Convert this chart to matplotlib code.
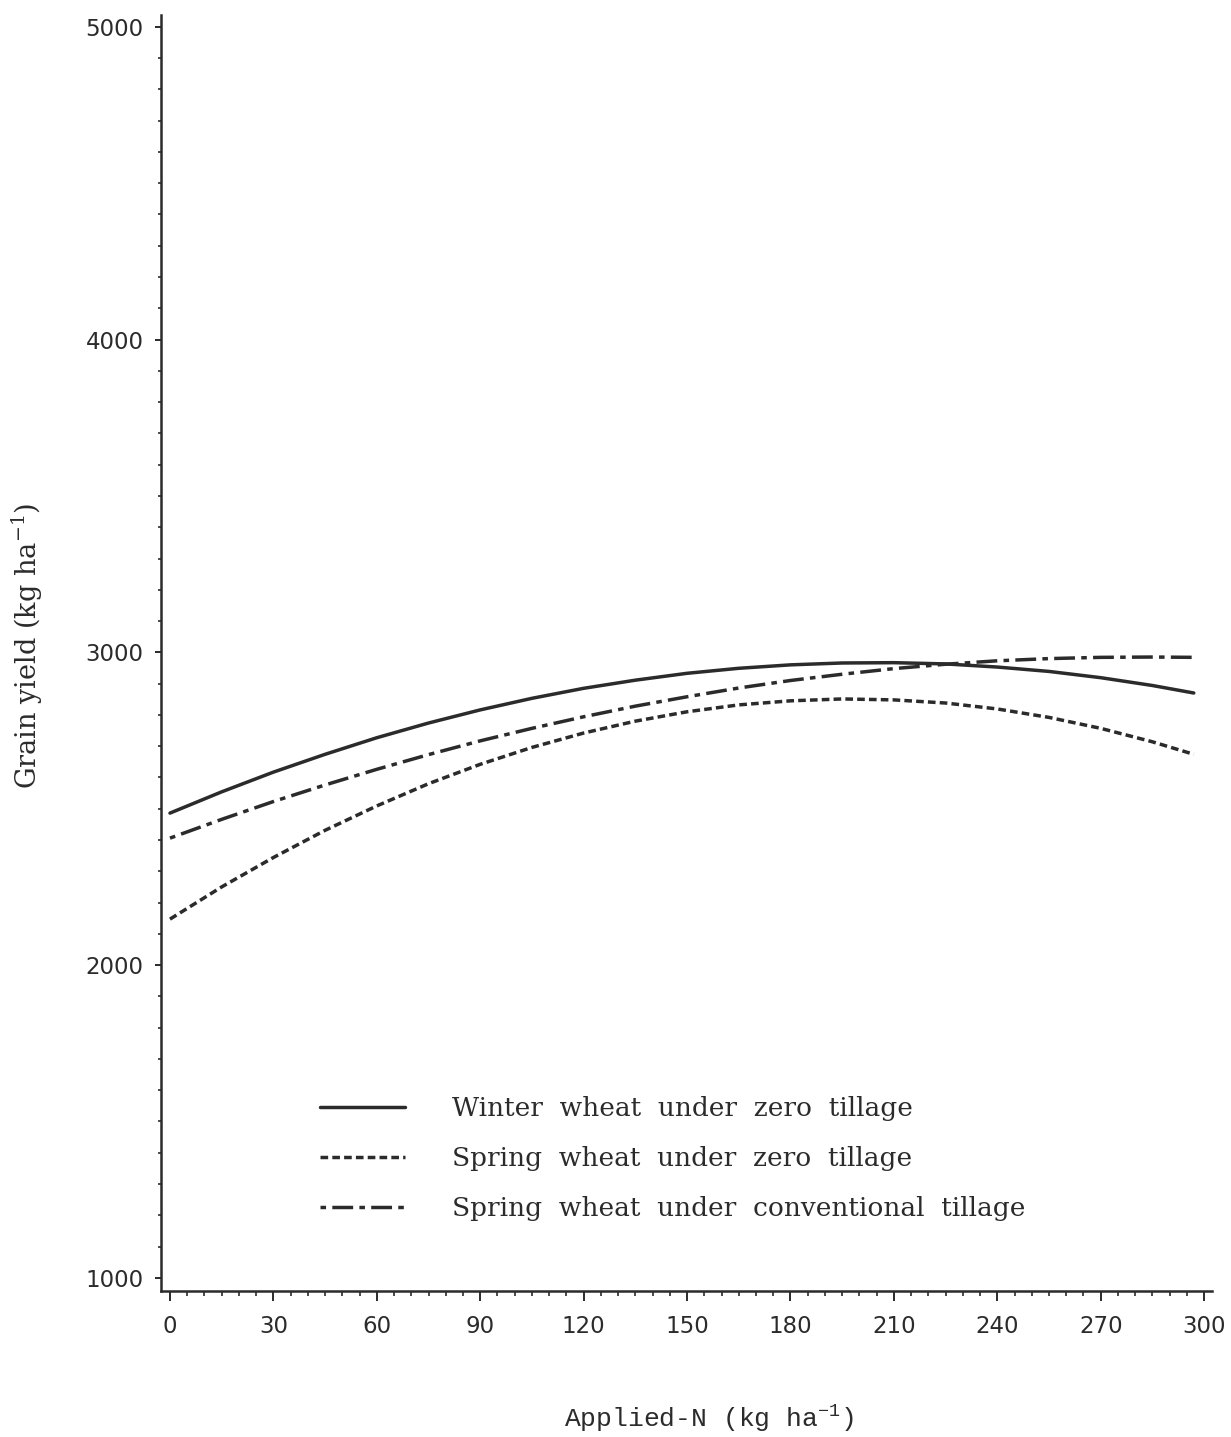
#!/usr/bin/env python3

import matplotlib
matplotlib.use("Agg")
import matplotlib.pyplot as plt
from matplotlib.ticker import MultipleLocator

# Applied N (kg/ha) where the curves were read
applied_n = [0, 15, 30, 45, 60, 75, 90, 105, 120, 135, 150, 165, 180,
             195, 210, 225, 240, 255, 270, 285, 297]

# Grain yield (kg/ha)
winter_zero = [2486, 2554, 2617, 2674, 2727, 2774, 2816, 2853, 2885, 2911,
               2933, 2949, 2960, 2966, 2967, 2963, 2953, 2939, 2919, 2894, 2870]
spring_zero = [2147, 2250, 2344, 2431, 2509, 2580, 2642, 2696, 2742, 2780,
               2810, 2832, 2845, 2851, 2848, 2838, 2819, 2792, 2757, 2714, 2674]
spring_conv = [2406, 2466, 2523, 2576, 2626, 2673, 2717, 2757, 2794, 2828,
               2858, 2886, 2910, 2930, 2948, 2962, 2973, 2980, 2984, 2985, 2984]

labels = ["Winter  wheat  under  zero  tillage",
          "Spring  wheat  under  zero  tillage",
          "Spring  wheat  under  conventional  tillage"]

INK = "#2b2b2b"


def main():
    fig = plt.figure(figsize=(12.31, 14.37), dpi=100)
    ax = fig.add_axes([0.1308, 0.1016, 0.8538, 0.888])

    lw = 2.5
    ax.plot(applied_n, winter_zero, color=INK, lw=lw, solid_capstyle="round",
            label=labels[0])
    ax.plot(applied_n, spring_zero, color=INK, lw=lw, linestyle=(0, (2.2, 1.2)),
            dash_capstyle="butt", label=labels[1])
    # start the dash-dot pattern on the dot, as in the original
    ax.plot(applied_n, spring_conv, color=INK, lw=lw,
            linestyle=(7.8, (6.0, 1.8, 1.6, 1.8)), dash_capstyle="butt",
            label=labels[2])

    ax.set_xlim(-2.6, 302.3)
    ax.set_ylim(958, 5038)

    ax.xaxis.set_major_locator(MultipleLocator(30))
    ax.xaxis.set_minor_locator(MultipleLocator(5))
    ax.yaxis.set_major_locator(MultipleLocator(1000))
    ax.yaxis.set_minor_locator(MultipleLocator(100))

    for side in ("top", "right"):
        ax.spines[side].set_visible(False)
    for side in ("left", "bottom"):
        ax.spines[side].set_linewidth(1.8)
        ax.spines[side].set_color(INK)

    ax.tick_params(axis="x", which="major", direction="out", length=7, width=1.4,
                   pad=10, labelsize=16.5, colors=INK)
    ax.tick_params(axis="x", which="minor", direction="out", length=3.5, width=1.2,
                   colors=INK)
    ax.tick_params(axis="y", which="major", direction="out", length=4.5, width=1.4,
                   pad=8, labelsize=16.5, colors=INK)
    ax.tick_params(axis="y", which="minor", direction="out", length=2.5, width=1.2,
                   colors=INK)

    ax.set_xlabel("Applied-N (kg ha$^{\\mathregular{-1}}$)", family="Liberation Mono",
                  fontsize=19, color=INK)
    ax.xaxis.set_label_coords(0.521, -0.087)
    ax.set_ylabel("Grain yield (kg ha$^{\\mathregular{-1}}$)", family="DejaVu Serif",
                  fontsize=19.5, color=INK)
    ax.yaxis.set_label_coords(-0.11, 0.506)

    ax.legend(loc="upper left", bbox_to_anchor=(0.1513, 0.153), frameon=False,
              borderpad=0, borderaxespad=0, handlelength=3.22, handletextpad=1.78,
              labelspacing=0.95, prop={"family": "DejaVu Serif", "size": 19},
              labelcolor=INK)

    fig.savefig("out.png", dpi=100)
    plt.close(fig)


if __name__ == "__main__":
    main()
